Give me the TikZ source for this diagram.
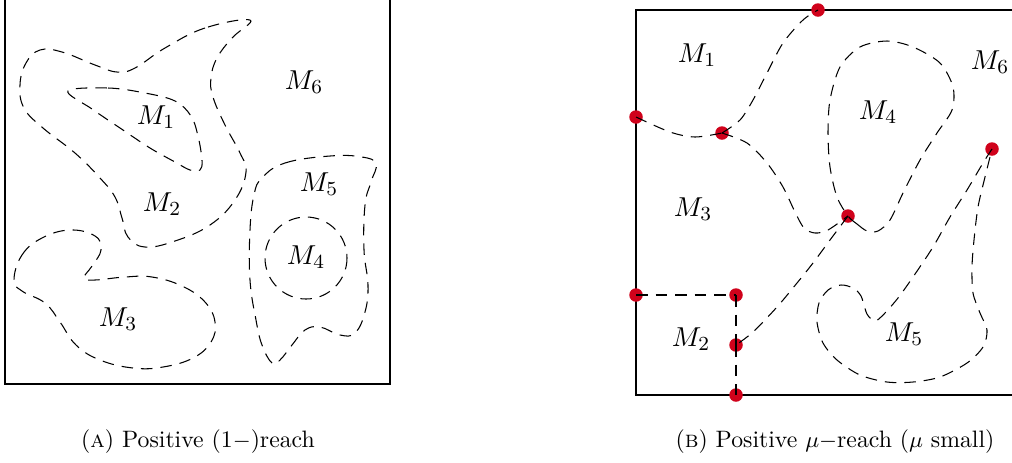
\documentclass[tikz,border=0pt]{standalone}
\usepackage{amsmath, amssymb}

\definecolor{dotred}{RGB}{208,2,27}
\tikzset{
  bdry/.style={dash pattern=on 4.6pt off 3.2pt, line width=0.42pt},
  meet/.style={circle, fill=dotred, inner sep=0pt, minimum size=5.4pt},
  capt/.style={font=\fontsize{9.5}{11}\selectfont},
}

\begin{document}
\begin{tikzpicture}[x=0.4pt, y=-0.4pt, font=\fontsize{11}{13}\selectfont]
  \clip (0,0) rectangle (1012,462);

  % (a) positive 1-reach
  \draw[line width=0.45pt] (5,-20) rectangle (390,384);
  \node (a1) at (156,117) {$M_1$};
  \node (a2) at (162,204) {$M_2$};
  \node (a3) at (118,319) {$M_3$};
  \node (a4) at (306,257) {$M_4$};
  \node (a5) at (319,184) {$M_5$};
  \node (a6) at (304,82) {$M_6$};
  \draw[bdry] plot[smooth cycle, tension=0.7] coordinates {
    (250,20) (205,28) (165,48) (135,68) (117,72) (95,65) (62,52) (40,50)
    (26,63) (20,85) (24,108) (43,128) (75,153) (100,178) (115,197) (122,218)
    (128,237) (145,247) (175,241) (210,225) (235,200) (246,172) (240,153)
    (225,125) (213,97) (211,78) (217,58) (232,38)};
  \draw[bdry] plot[smooth cycle, tension=0.6] coordinates {
    (68,91) (108,88) (145,93) (175,101) (191,116) (198,136) (202,160)
    (200,170) (190,170) (175,162) (150,148) (120,128) (92,109)};
  \draw[bdry] plot[smooth cycle, tension=0.7] coordinates {
    (14,280) (22,255) (42,238) (70,230) (95,236) (101,250) (92,266) (84,278)
    (95,280) (125,277) (152,277) (182,286) (205,302) (215,322) (211,342)
    (193,358) (163,367) (133,368) (100,360) (76,345) (60,322) (45,303) (22,291)};
  \draw[bdry] plot[smooth cycle, tension=0.7] coordinates {
    (262,178) (285,163) (330,156) (362,157) (376,164) (371,182) (365,205)
    (364,250) (368,285) (365,312) (355,333) (340,335) (320,327) (305,330)
    (292,345) (280,360) (272,363) (262,345) (256,320) (250,280) (250,230) (254,195)};
  \draw[bdry] (306,258) circle (41);

  % (b) positive mu-reach
  \draw[line width=0.45pt] (636,10) rectangle (1040,395);
  \node (b1) at (697,55) {$M_1$};
  \node (b2) at (691,339) {$M_2$};
  \node (b3) at (693,209) {$M_3$};
  \node (b4) at (878,112) {$M_4$};
  \node (b5) at (904,334) {$M_5$};
  \node (b6) at (990,62) {$M_6$};

  \node[meet] (p1) at (818,10) {};
  \node[meet] (p2) at (636,117) {};
  \node[meet] (p3) at (722,133) {};
  \node[meet] (p4) at (848,216) {};
  \node[meet] (p5) at (992,149) {};
  \node[meet] (p6) at (636,295) {};
  \node[meet] (p7) at (736,295) {};
  \node[meet] (p8) at (736,345) {};
  \node[meet] (p9) at (736,395) {};

  \draw[bdry] plot[smooth] coordinates {(p2.center) (670,132) (695,137) (p3.center)};
  \draw[bdry] plot[smooth] coordinates {(p3.center) (740,120) (753,100) (767,73)
    (783,43) (803,20) (p1.center)};
  \draw[bdry] plot[smooth] coordinates {(p3.center) (747,143) (767,163) (783,187)
    (795,212) (804,228) (815,233) (828,230) (p4.center)};
  \draw[bdry] plot[smooth cycle] coordinates {(p4.center) (857,224) (867,231)
    (878,231) (890,220) (903,193) (920,160) (937,133) (952,110) (953,87) (940,63)
    (913,47) (887,41) (860,47) (840,67) (830,100) (828,133) (830,167) (837,197)};
  \draw[bdry] plot[smooth] coordinates {(p4.center) (830,240) (813,263) (797,283)
    (777,307) (753,332) (p8.center)};
  \draw[bdry] plot[smooth] coordinates {(p5.center) (983,163) (967,190) (950,217)
    (933,247) (913,277) (898,298) (884,314) (875,321) (867,314) (861,296)
    (853,288) (841,285) (828,290) (819,303) (817,322) (823,343) (837,360)
    (860,375) (887,382) (913,382) (940,377) (967,363) (983,347) (987,330)
    (980,313) (973,293) (972,267) (974,240) (978,207) (985,177) (p5.center)};
  \draw[bdry] (p6.center) -- (p7.center);
  \draw[bdry] (p7.center) -- (p8.center);
  \draw[bdry] (p8.center) -- (p9.center);

  \node[capt] (capa) at (198,442) {(\textsc{a}) Positive (1$-$)reach};
  \node[capt] (capb) at (835,442) {(\textsc{b}) Positive $\mu$$-$reach ($\mu$ small)};
\end{tikzpicture}
\end{document}
